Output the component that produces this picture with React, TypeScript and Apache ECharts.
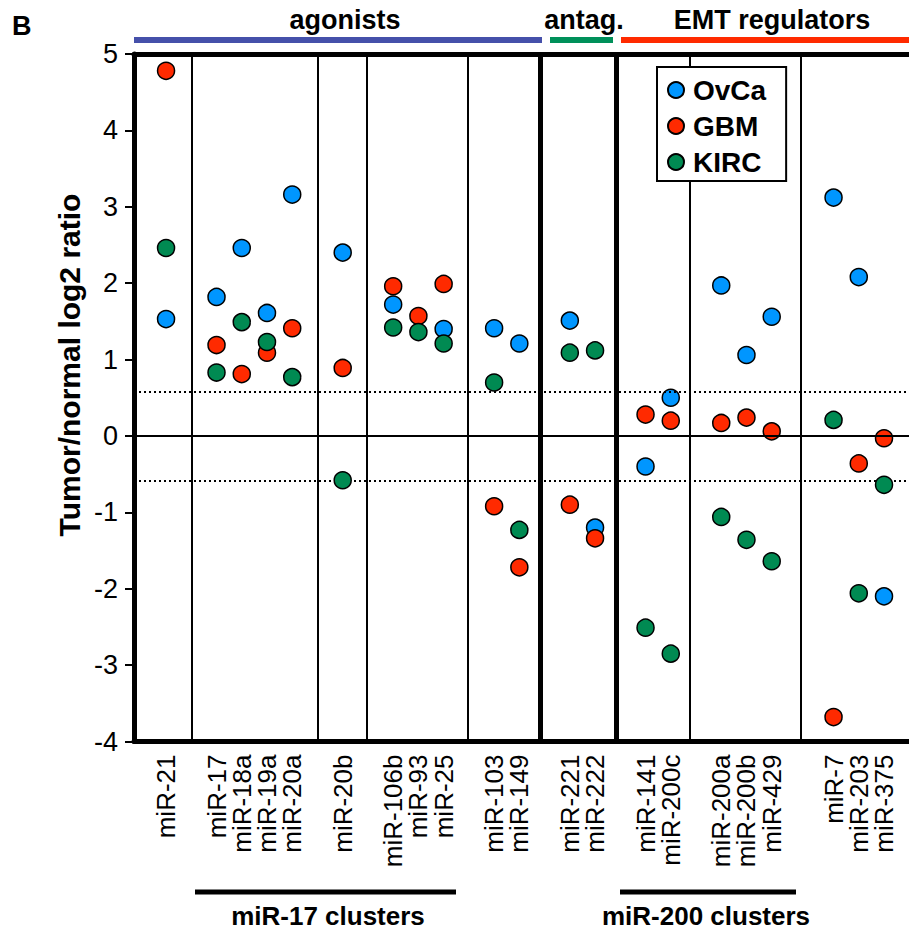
import React, { useEffect, useRef } from "react";
import * as echarts from "echarts";

// ---- data ----
const groups: string[][] = [
  ["miR-21"],
  ["miR-17", "miR-18a", "miR-19a", "miR-20a"],
  ["miR-20b"],
  ["miR-106b", "miR-93", "miR-25"],
  ["miR-103", "miR-149"],
  ["miR-221", "miR-222"],
  ["miR-141", "miR-200c"],
  ["miR-200a", "miR-200b", "miR-429"],
  ["miR-7", "miR-203", "miR-375"],
];
const categories = groups.flat();

const ovca: (number | null)[] = [1.53, 1.82, 2.46, 1.61, 3.16, 2.4, 1.72, null, 1.4, 1.41, 1.21, 1.51, -1.2, -0.4, 0.5, 1.97, 1.06, 1.56, 3.12, 2.08, -2.1];
const gbm: (number | null)[] = [4.78, 1.19, 0.81, 1.09, 1.41, 0.89, 1.96, 1.57, 1.99, -0.92, -1.72, -0.9, -1.34, 0.28, 0.2, 0.17, 0.24, 0.06, -3.68, -0.36, -0.03];
const kirc: (number | null)[] = [2.46, 0.83, 1.49, 1.23, 0.77, -0.58, 1.42, 1.36, 1.21, 0.7, -1.23, 1.09, 1.12, -2.51, -2.85, -1.06, -1.36, -1.64, 0.21, -2.06, -0.64];
const seriesNames = ["OvCa", "GBM", "KIRC"];
const threshold = 0.585;
const yMin = -4;
const yMax = 5;

// ---- layout constants ----
const groupGap = [0, 2, 2, 2, 2, 2, 2, 2, 2.45];
const separatorNudge = [0, 0, 0, -0.05, -0.05, -0.16, -0.17, -0.24, -0.06];
const thickBefore = [5, 6];
const xMin = -1.27;
const xMax = 29.44;

const positions: number[] = [];
const separators: { x: number; thick: boolean }[] = [];
{
  let cur = 0;
  groups.forEach((g, gi) => {
    if (gi > 0) {
      const last = cur - 1;
      const next = last + groupGap[gi];
      separators.push({ x: (last + next) / 2 + separatorNudge[gi], thick: thickBefore.includes(gi) });
      cur = next;
    }
    g.forEach(() => {
      positions.push(Math.round(cur * 100) / 100);
      cur += 1;
    });
  });
}

const FONT = "'Liberation Sans', Arial, Helvetica, sans-serif";
const colors = ["#0096FF", "#FF2A00", "#008A52"];

function pts(vals: (number | null)[]) {
  const out: number[][] = [];
  vals.forEach((v, i) => {
    if (v !== null) out.push([positions[i], v]);
  });
  return out;
}

export default function App() {
  const ref = useRef<HTMLDivElement>(null);
  useEffect(() => {
    if (!ref.current) return;
    const chart = echarts.init(ref.current, undefined, { renderer: "svg" });
    const nameAt = (v: number) => {
      const i = positions.findIndex((p) => Math.abs(p - v) < 1e-3);
      return i >= 0 ? categories[i] : "";
    };
    const markData: any[] = [
      { yAxis: 0, lineStyle: { type: "solid", width: 2, color: "#000" } },
      { yAxis: threshold, lineStyle: { type: [2, 3], width: 2, color: "#000" } },
      { yAxis: -threshold, lineStyle: { type: [2, 3], width: 2, color: "#000" } },
      ...separators.map((s) => ({
        xAxis: s.x,
        lineStyle: { type: "solid", width: s.thick ? 5 : 2, color: "#000" },
      })),
    ];
    const scatter = (name: string, vals: (number | null)[], ci: number) => ({
      name,
      type: "scatter",
      data: pts(vals),
      symbol: "circle",
      symbolSize: 17,
      z: 3 + ci,
      itemStyle: { color: colors[ci], borderColor: "#000", borderWidth: 1.5, opacity: 1 },
    });
    chart.setOption({
      animation: false,
      backgroundColor: "#fff",
      grid: { left: 134, right: 0, top: 54, bottom: 190.5 },
      xAxis: [
        {
          type: "value",
          position: "bottom",
          min: xMin,
          max: xMax,
          splitLine: { show: false },
          axisLine: { onZero: false, lineStyle: { color: "#000", width: 5 } },
          axisTick: { show: false },
          axisLabel: {
            // the two bounds carry empty labels so that no end label gets hidden
            customValues: [xMin, ...positions, xMax],
            formatter: (v: number) => nameAt(v),
            rotate: 90,
            margin: 13,
            fontSize: 26,
            fontFamily: FONT,
            color: "#000",
            showMinLabel: true,
            showMaxLabel: true,
            hideOverlap: false,
          },
        },
        {
          type: "value",
          position: "top",
          min: xMin,
          max: xMax,
          splitLine: { show: false },
          axisLine: { onZero: false, lineStyle: { color: "#000", width: 5 } },
          axisTick: { show: false },
          axisLabel: { show: false },
        },
      ],
      yAxis: {
        type: "value",
        min: yMin,
        max: yMax,
        interval: 1,
        splitLine: { show: false },
        axisLine: { onZero: false, lineStyle: { color: "#000", width: 5 } },
        axisTick: { inside: false, length: 9, lineStyle: { color: "#000", width: 2 } },
        axisLabel: { margin: 16, fontSize: 27, fontFamily: FONT, color: "#000" },
      },
      legend: {
        data: seriesNames,
        orient: "vertical",
        left: 657,
        top: 67,
        icon: "circle",
        itemWidth: 24,
        itemHeight: 16,
        itemGap: 6,
        padding: [8, 20, 4, 10],
        backgroundColor: "#fff",
        borderColor: "#000",
        borderWidth: 2,
        z: 10,
        textStyle: { fontSize: 28, fontWeight: "bold", fontFamily: FONT, color: "#000", lineHeight: 30 },
      },
      series: [
        {
          name: "lines",
          type: "scatter",
          data: [],
          z: 1,
          silent: true,
          markLine: {
            silent: true,
            symbol: ["none", "none"],
            label: { show: false },
            data: markData,
          },
        },
        scatter(seriesNames[0], ovca, 0),
        scatter(seriesNames[1], gbm, 1),
        scatter(seriesNames[2], kirc, 2),
      ],
      graphic: [
        { type: "text", left: 12, top: 12, style: { text: "B", font: `bold 27px ${FONT}`, fill: "#000" } },
        { type: "line", shape: { x1: 134, y1: 40, x2: 542, y2: 40 }, style: { stroke: "#4550AA", lineWidth: 6 } },
        { type: "line", shape: { x1: 550, y1: 40, x2: 613, y2: 40 }, style: { stroke: "#00905A", lineWidth: 6 } },
        { type: "line", shape: { x1: 621, y1: 40, x2: 909, y2: 40 }, style: { stroke: "#FF2A00", lineWidth: 6 } },
        { type: "text", x: 345, y: 20, style: { text: "agonists", font: `bold 27px ${FONT}`, fill: "#000", textAlign: "center", textVerticalAlign: "middle" } },
        { type: "text", x: 584, y: 20, style: { text: "antag.", font: `bold 27px ${FONT}`, fill: "#000", textAlign: "center", textVerticalAlign: "middle" } },
        { type: "text", x: 772, y: 20, style: { text: "EMT regulators", font: `bold 27px ${FONT}`, fill: "#000", textAlign: "center", textVerticalAlign: "middle" } },
        { type: "line", shape: { x1: 195, y1: 892, x2: 456, y2: 892 }, style: { stroke: "#000", lineWidth: 5 } },
        { type: "line", shape: { x1: 620, y1: 892, x2: 796, y2: 892 }, style: { stroke: "#000", lineWidth: 5 } },
        { type: "text", x: 328, y: 916, style: { text: "miR-17 clusters", font: `bold 26px ${FONT}`, fill: "#000", textAlign: "center", textVerticalAlign: "middle" } },
        { type: "text", x: 706, y: 916, style: { text: "miR-200 clusters", font: `bold 26px ${FONT}`, fill: "#000", textAlign: "center", textVerticalAlign: "middle" } },
        {
          type: "text",
          x: 69,
          y: 365,
          rotation: Math.PI / 2,
          style: { text: "Tumor/normal log2 ratio", font: `bold 30px ${FONT}`, fill: "#000", textAlign: "center", textVerticalAlign: "middle" },
        },
      ],
    });
    return () => chart.dispose();
  }, []);
  return <div ref={ref} style={{ position: "fixed", left: 0, top: 0, width: 909, height: 932 }} />;
}
